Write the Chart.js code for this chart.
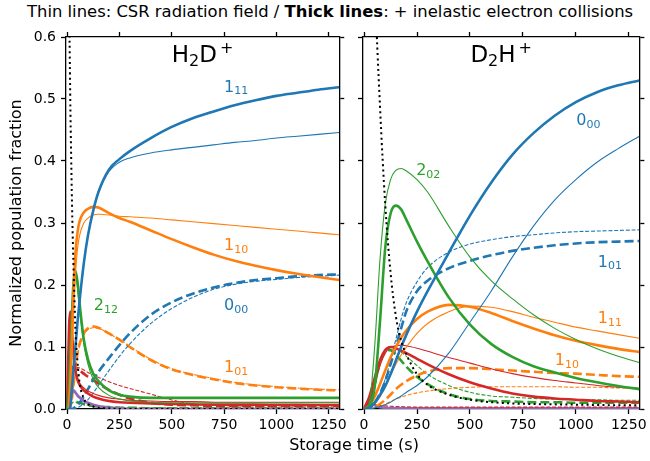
<!DOCTYPE html>
<html>
<head>
<meta charset="utf-8">
<script src="https://cdn.jsdelivr.net/npm/chart.js@4.4.0/dist/chart.umd.min.js"></script>
<style>
    body { margin: 0; background: #ffffff; }
    #figure { position: relative; width: 650px; height: 461px; overflow: hidden; font-family: 'DejaVu Sans', sans-serif; color: #000; }
    #h2d-chart { position: absolute; left: 0; top: 0; }
    #d2h-chart { position: absolute; left: 350px; top: 0; }
    #suptitle { position: absolute; left: 27px; top: 2px; font-size: 16.4px; white-space: nowrap; }
    #xlabel { position: absolute; left: 0; width: 708px; top: 435px; font-size: 16px; text-align: center; white-space: nowrap; }
</style>
</head>
<body>
<div id="figure">
    <div id="suptitle">Thin lines: CSR radiation field / <b>Thick lines</b>: + inelastic electron collisions</div>
    <canvas id="h2d-chart" width="350" height="461"></canvas>
    <canvas id="d2h-chart" width="300" height="461"></canvas>
    <div id="xlabel">Storage time (s)</div>
</div>
<script>
// Population trends of H2D+ and D2H+ rotational levels during storage

const FONT = "'DejaVu Sans', sans-serif";
const BLUE = '#1f77b4', ORANGE = '#ff7f0e', GREEN = '#2ca02c', RED = '#d62728', PURPLE = '#9467bd', BLACK = '#000000';

const xTickValues = [0, 250, 500, 750, 1000, 1250];
const yTickValues = [0.0, 0.1, 0.2, 0.3, 0.4, 0.5, 0.6];
const X_MIN = -5, X_MAX = 1300;

// ---- H2D+ ----
const h2dTime = [0, 5, 10, 15, 20, 25, 30, 40, 50, 60, 80, 100, 125, 150, 200, 250, 300, 400, 500, 600, 700, 800, 900, 1000, 1100, 1200, 1300];
const h2dDecay = [1.15, 0.88, 0.67, 0.51, 0.40, 0.31, 0.24, 0.13, 0.075, 0.042, 0.017, 0.008, 0.004, 0.002, 0.001, 0, 0, 0, 0, 0, 0, 0, 0, 0, 0, 0, 0];
const h2d111Thick = [0, 0, 0, 0.003, 0.02, 0.04, 0.06, 0.10, 0.14, 0.175, 0.235, 0.28, 0.32, 0.35, 0.386, 0.403, 0.416, 0.437, 0.455, 0.469, 0.48, 0.49, 0.498, 0.505, 0.51, 0.515, 0.519];
const h2d111Thin = [0, 0, 0, 0.003, 0.02, 0.04, 0.06, 0.10, 0.14, 0.175, 0.235, 0.28, 0.32, 0.349, 0.383, 0.398, 0.405, 0.413, 0.418, 0.422, 0.426, 0.43, 0.433, 0.437, 0.44, 0.443, 0.446];
const h2d110Thick = [0, 0, 0.01, 0.04, 0.08, 0.13, 0.18, 0.25, 0.285, 0.303, 0.317, 0.323, 0.326, 0.325, 0.316, 0.308, 0.302, 0.288, 0.274, 0.261, 0.249, 0.239, 0.231, 0.224, 0.218, 0.213, 0.208];
const h2d110Thin = [0, 0, 0.005, 0.025, 0.06, 0.10, 0.145, 0.215, 0.258, 0.28, 0.3, 0.308, 0.313, 0.314, 0.313, 0.311, 0.31, 0.308, 0.305, 0.302, 0.299, 0.296, 0.293, 0.29, 0.287, 0.284, 0.281];
const h2d000Thick = [0, 0, 0, 0, 0, 0, 0.001, 0.003, 0.006, 0.01, 0.02, 0.032, 0.047, 0.06, 0.082, 0.103, 0.122, 0.152, 0.172, 0.186, 0.196, 0.203, 0.208, 0.211, 0.214, 0.216, 0.217];
const h2d000Thin = [0, 0, 0, 0, 0, 0, 0, 0.001, 0.002, 0.004, 0.008, 0.015, 0.026, 0.038, 0.062, 0.085, 0.105, 0.138, 0.162, 0.18, 0.193, 0.201, 0.206, 0.209, 0.212, 0.214, 0.216];
const h2d101Thick = [0, 0, 0, 0.003, 0.01, 0.022, 0.037, 0.065, 0.09, 0.105, 0.122, 0.13, 0.133, 0.131, 0.122, 0.112, 0.1, 0.079, 0.064, 0.055, 0.048, 0.042, 0.038, 0.035, 0.033, 0.031, 0.03];
const h2d101Thin = [0, 0, 0, 0.002, 0.008, 0.018, 0.032, 0.06, 0.085, 0.102, 0.12, 0.128, 0.131, 0.13, 0.122, 0.112, 0.101, 0.08, 0.065, 0.056, 0.049, 0.043, 0.039, 0.036, 0.034, 0.032, 0.031];
const h2d212Thick = [0, 0.01, 0.04, 0.08, 0.125, 0.165, 0.2, 0.223, 0.205, 0.17, 0.112, 0.08, 0.057, 0.045, 0.03, 0.023, 0.02, 0.018, 0.018, 0.018, 0.018, 0.018, 0.018, 0.018, 0.018, 0.018, 0.018];
const h2d212Thin = [0, 0.012, 0.045, 0.09, 0.135, 0.17, 0.198, 0.215, 0.195, 0.16, 0.105, 0.072, 0.048, 0.035, 0.022, 0.016, 0.013, 0.011, 0.01, 0.01, 0.01, 0.01, 0.01, 0.01, 0.01, 0.01, 0.01];
const h2dRedThick = [0, 0.07, 0.135, 0.157, 0.14, 0.115, 0.092, 0.062, 0.047, 0.039, 0.03, 0.025, 0.02, 0.017, 0.013, 0.011, 0.01, 0.009, 0.008, 0.0075, 0.007, 0.007, 0.007, 0.0068, 0.0066, 0.0065, 0.0065];
const h2dRedThin = [0, 0.065, 0.13, 0.152, 0.138, 0.115, 0.093, 0.065, 0.05, 0.042, 0.034, 0.029, 0.025, 0.022, 0.018, 0.016, 0.014, 0.013, 0.012, 0.012, 0.011, 0.011, 0.011, 0.011, 0.011, 0.011, 0.011];
const h2dRedDashThick = [0, 0.01, 0.03, 0.05, 0.062, 0.067, 0.068, 0.066, 0.064, 0.062, 0.057, 0.052, 0.047, 0.041, 0.031, 0.023, 0.017, 0.01, 0.007, 0.006, 0.005, 0.005, 0.005, 0.005, 0.005, 0.005, 0.005];
const h2dRedDashThin = [0, 0.01, 0.03, 0.05, 0.062, 0.067, 0.069, 0.068, 0.067, 0.066, 0.063, 0.059, 0.055, 0.051, 0.044, 0.038, 0.033, 0.024, 0.0145, 0.008, 0.006, 0.005, 0.005, 0.005, 0.005, 0.005, 0.005];
const h2dPurpleThick = [0, 0.02, 0.028, 0.031, 0.031, 0.031, 0.03, 0.027, 0.022, 0.019, 0.013, 0.01, 0.007, 0.005, 0.002, 0.001, 0, 0, 0, 0, 0, 0, 0, 0, 0, 0, 0];
const h2dPurpleThin = [0, 0.018, 0.027, 0.03, 0.03, 0.029, 0.028, 0.025, 0.02, 0.017, 0.012, 0.009, 0.006, 0.004, 0.002, 0.001, 0, 0, 0, 0, 0, 0, 0, 0, 0, 0, 0];
const h2dGreenDashThick = [0, 0.002, 0.005, 0.008, 0.01, 0.011, 0.012, 0.012, 0.011, 0.01, 0.008, 0.006, 0.005, 0.004, 0.003, 0.002, 0.002, 0.001, 0.001, 0.001, 0.001, 0.001, 0.001, 0.001, 0.001, 0.001, 0.001];
const h2dGreenDashThin = [0, 0.002, 0.004, 0.007, 0.009, 0.01, 0.011, 0.011, 0.01, 0.009, 0.007, 0.006, 0.005, 0.004, 0.003, 0.003, 0.002, 0.002, 0.002, 0.002, 0.002, 0.002, 0.002, 0.002, 0.002, 0.002, 0.002];

// ---- D2H+ ----
const d2hTime = [0, 25, 50, 75, 100, 125, 150, 175, 200, 250, 300, 400, 500, 600, 700, 800, 900, 1000, 1100, 1200, 1300];
const d2hDecay = [1.6, 1.05, 0.7, 0.49, 0.33, 0.22, 0.15, 0.11, 0.088, 0.056, 0.039, 0.023, 0.015, 0.011, 0.009, 0.008, 0.0075, 0.007, 0.0065, 0.006, 0.006];
const d2h000Thick = [0, 0.002, 0.01, 0.022, 0.037, 0.056, 0.078, 0.1, 0.12, 0.157, 0.19, 0.252, 0.312, 0.365, 0.41, 0.445, 0.473, 0.495, 0.511, 0.522, 0.53];
const d2h000Thin = [0, 0, 0.002, 0.004, 0.007, 0.011, 0.016, 0.021, 0.027, 0.038, 0.052, 0.09, 0.14, 0.19, 0.245, 0.295, 0.337, 0.37, 0.398, 0.42, 0.44];
const d2h101Thick = [0, 0.002, 0.01, 0.025, 0.045, 0.072, 0.1, 0.13, 0.158, 0.19, 0.207, 0.227, 0.239, 0.248, 0.255, 0.26, 0.264, 0.267, 0.269, 0.27, 0.271];
const d2h101Thin = [0, 0.002, 0.008, 0.025, 0.048, 0.078, 0.112, 0.145, 0.172, 0.205, 0.228, 0.253, 0.266, 0.273, 0.278, 0.281, 0.284, 0.286, 0.287, 0.288, 0.289];
const d2h202Thick = [0, 0.005, 0.035, 0.14, 0.26, 0.315, 0.328, 0.322, 0.305, 0.27, 0.238, 0.18, 0.136, 0.105, 0.084, 0.069, 0.059, 0.05, 0.043, 0.037, 0.032];
const d2h202Thin = [0, 0.01, 0.1, 0.24, 0.33, 0.37, 0.385, 0.388, 0.384, 0.37, 0.35, 0.295, 0.245, 0.207, 0.178, 0.152, 0.13, 0.112, 0.097, 0.085, 0.075];
const d2h111Thick = [0, 0.005, 0.02, 0.04, 0.062, 0.083, 0.1, 0.115, 0.127, 0.145, 0.157, 0.168, 0.165, 0.155, 0.142, 0.13, 0.119, 0.11, 0.103, 0.097, 0.092];
const d2h111Thin = [0, 0.002, 0.008, 0.02, 0.037, 0.055, 0.072, 0.087, 0.1, 0.122, 0.138, 0.157, 0.166, 0.164, 0.157, 0.148, 0.14, 0.132, 0.126, 0.12, 0.114];
const d2h110Thick = [0, 0.001, 0.003, 0.008, 0.015, 0.023, 0.032, 0.039, 0.045, 0.054, 0.06, 0.066, 0.066, 0.064, 0.062, 0.06, 0.058, 0.057, 0.055, 0.053, 0.052];
const d2h110Thin = [0, 0, 0.002, 0.004, 0.008, 0.012, 0.016, 0.019, 0.022, 0.026, 0.029, 0.033, 0.035, 0.036, 0.036, 0.036, 0.036, 0.035, 0.035, 0.034, 0.034];
const d2hRedThick = [0, 0.02, 0.05, 0.078, 0.095, 0.1, 0.098, 0.094, 0.09, 0.081, 0.072, 0.056, 0.043, 0.033, 0.025, 0.02, 0.017, 0.015, 0.013, 0.012, 0.011];
const d2hRedThin = [0, 0.012, 0.04, 0.07, 0.09, 0.1, 0.102, 0.103, 0.102, 0.098, 0.093, 0.083, 0.074, 0.065, 0.057, 0.051, 0.046, 0.042, 0.038, 0.035, 0.033];
const d2hGreenDashThick = [0, 0.01, 0.04, 0.075, 0.092, 0.095, 0.088, 0.078, 0.068, 0.052, 0.04, 0.024, 0.016, 0.013, 0.012, 0.011, 0.011, 0.01, 0.01, 0.01, 0.01];
const d2hGreenDashThin = [0, 0.008, 0.035, 0.07, 0.092, 0.1, 0.098, 0.092, 0.085, 0.07, 0.056, 0.038, 0.027, 0.021, 0.019, 0.017, 0.016, 0.015, 0.015, 0.014, 0.014];
const d2hRedDash = [0, 0.01, 0.008, 0.006, 0.005, 0.0045, 0.004, 0.004, 0.0035, 0.003, 0.003, 0.003, 0.003, 0.003, 0.003, 0.003, 0.003, 0.003, 0.003, 0.003, 0.003];
const d2hPurple = [0, 0.015, 0.006, 0.003, 0.002, 0.0015, 0.0012, 0.001, 0.001, 0.001, 0.001, 0.001, 0.001, 0.001, 0.001, 0.001, 0.001, 0.001, 0.001, 0.001, 0.001];

// Line styles (thin = CSR only, thick = with electron collisions)
const STYLES = {
    dot: { width: 2, dash: [2, 3.3] },
    thick: { width: 2.6, dash: [] },
    thin: { width: 1.1, dash: [] },
    thickDash: { width: 2.6, dash: [9, 4] },
    thinDash: { width: 1.1, dash: [4, 1.8] }
};

// [values, colour, style] - first entry is drawn on top
const h2dLines = [
    [h2dDecay, BLACK, 'dot'],
    [h2d111Thick, BLUE, 'thick'], [h2d111Thin, BLUE, 'thin'],
    [h2d110Thick, ORANGE, 'thick'], [h2d110Thin, ORANGE, 'thin'],
    [h2d212Thick, GREEN, 'thick'], [h2d212Thin, GREEN, 'thin'],
    [h2dRedThick, RED, 'thick'], [h2dRedThin, RED, 'thin'],
    [h2dPurpleThick, PURPLE, 'thick'], [h2dPurpleThin, PURPLE, 'thin'],
    [h2d000Thick, BLUE, 'thickDash'], [h2d000Thin, BLUE, 'thinDash'],
    [h2d101Thick, ORANGE, 'thickDash'], [h2d101Thin, ORANGE, 'thinDash'],
    [h2dRedDashThick, RED, 'thickDash'], [h2dRedDashThin, RED, 'thinDash'],
    [h2dGreenDashThick, GREEN, 'thickDash'], [h2dGreenDashThin, GREEN, 'thinDash']
];

const d2hLines = [
    [d2hDecay, BLACK, 'dot'],
    [d2h000Thick, BLUE, 'thick'], [d2h000Thin, BLUE, 'thin'],
    [d2h202Thick, GREEN, 'thick'], [d2h202Thin, GREEN, 'thin'],
    [d2h111Thick, ORANGE, 'thick'], [d2h111Thin, ORANGE, 'thin'],
    [d2hRedThick, RED, 'thick'], [d2hRedThin, RED, 'thin'],
    [d2h101Thick, BLUE, 'thickDash'], [d2h101Thin, BLUE, 'thinDash'],
    [d2h110Thick, ORANGE, 'thickDash'], [d2h110Thin, ORANGE, 'thinDash'],
    [d2hGreenDashThick, GREEN, 'thickDash'], [d2hGreenDashThin, GREEN, 'thinDash'],
    [d2hRedDash, RED, 'thinDash'],
    [d2hPurple, PURPLE, 'thick']
];

// Level labels: [level, J_KaKc subscript, colour, time, fraction]
const h2dLabels = [
    ['1', '11', BLUE, 750, 0.512],
    ['1', '10', ORANGE, 750, 0.2565],
    ['2', '12', GREEN, 128, 0.16],
    ['0', '00', BLUE, 750, 0.16],
    ['1', '01', ORANGE, 750, 0.06]
];
const d2hLabels = [
    ['0', '00', BLUE, 1002, 0.458],
    ['2', '02', GREEN, 246, 0.377],
    ['1', '01', BLUE, 1104, 0.2295],
    ['1', '11', ORANGE, 1104, 0.138],
    ['1', '10', ORANGE, 901, 0.071]
];

// Draw text made of normal / subscript / superscript pieces
function drawRich(ctx, x, y, parts, base, align) {
    const pieces = parts.map(([txt, role, gap]) => {
        const size = role === 'base' ? base : Math.round(base * 0.7);
        const dy = role === 'sub' ? base * 0.17 : role === 'sup' ? -base * 0.4 : 0;
        ctx.font = `${size}px ${FONT}`;
        return { txt, size, dy, gap: gap || 0, w: ctx.measureText(txt).width };
    });
    const total = pieces.reduce((s, p) => s + p.w + p.gap, 0);
    let cx = align === 'center' ? x - total / 2 : x;
    pieces.forEach(p => {
        cx += p.gap;
        ctx.font = `${p.size}px ${FONT}`;
        ctx.fillText(p.txt, cx, y + p.dy);
        cx += p.w;
    });
}

const levelLabels = {
    id: 'levelLabels',
    afterDatasetsDraw(chart, args, opts) {
        const { ctx, scales: { x, y } } = chart;
        ctx.save();
        ctx.textBaseline = 'alphabetic';
        ctx.textAlign = 'left';
        // panel title
        ctx.fillStyle = '#000';
        drawRich(ctx, (chart.chartArea.left + chart.chartArea.right) / 2, y.getPixelForValue(0.5597), opts.title, 23, 'center');
        opts.items.forEach(([lvl, sub, color, t, v]) => {
            ctx.fillStyle = color;
            drawRich(ctx, x.getPixelForValue(t), y.getPixelForValue(v), [[lvl, 'base'], [sub, 'sub']], 16, 'left');
        });
        ctx.restore();
    }
};

function buildDatasets(time, lines) {
    return lines.map(([values, color, style]) => ({
        data: time.map((t, i) => ({ x: t, y: values[i] })),
        borderColor: color,
        borderWidth: STYLES[style].width,
        borderDash: STYLES[style].dash,
        borderCapStyle: 'butt',
        pointRadius: 0,
        fill: false,
        cubicInterpolationMode: 'monotone',
        xAxisID: 'x',
        yAxisID: 'y'
    }));
}

const tickGrid = { drawOnChartArea: false, drawTicks: true, tickLength: 5, tickWidth: 1.3, tickColor: '#000' };
const spine = { display: true, color: '#000', width: 1.3 };

function panelOptions(sizes, title, items, showYLabels) {
    return {
        responsive: false,
        animation: false,
        events: [],
        layout: { padding: 0 },
        plugins: {
            legend: { display: false },
            tooltip: { enabled: false },
            levelLabels: { title, items }
        },
        scales: {
            x: {
                type: 'linear', position: 'bottom', min: X_MIN, max: X_MAX,
                afterBuildTicks: s => { s.ticks = xTickValues.map(v => ({ value: v })); },
                afterFit: s => { s.height = sizes.bottom; },
                grid: tickGrid, border: spine,
                ticks: { color: '#000', padding: 3, maxRotation: 0, autoSkip: false, font: { family: FONT, size: 14 }, callback: v => String(v) }
            },
            xTop: {
                type: 'linear', position: 'top', min: X_MIN, max: X_MAX,
                afterBuildTicks: s => { s.ticks = xTickValues.map(v => ({ value: v })); },
                afterFit: s => { s.height = sizes.top; },
                grid: tickGrid, border: spine,
                ticks: { display: false }
            },
            y: {
                type: 'linear', position: 'left', min: 0, max: 0.6,
                afterBuildTicks: s => { s.ticks = yTickValues.map(v => ({ value: v })); },
                afterFit: s => { s.width = sizes.left; },
                grid: tickGrid, border: spine,
                ticks: { display: showYLabels, color: '#000', padding: 5, font: { family: FONT, size: 14 }, callback: v => v.toFixed(1) },
                title: {
                    display: showYLabels, text: 'Normalized population fraction', color: '#000',
                    font: { family: FONT, size: 16 }, padding: { top: 7, bottom: 0 }
                }
            },
            yRight: {
                type: 'linear', position: 'right', min: 0, max: 0.6,
                afterBuildTicks: s => { s.ticks = yTickValues.map(v => ({ value: v })); },
                afterFit: s => { s.width = sizes.right; },
                grid: tickGrid, border: spine,
                ticks: { display: false }
            }
        }
    };
}

new Chart(document.getElementById('h2d-chart'), {
    type: 'line',
    data: { datasets: buildDatasets(h2dTime, h2dLines) },
    options: panelOptions({ left: 66, right: 6, top: 37, bottom: 52 },
        [['H', 'base'], ['2', 'sub'], ['D', 'base'], ['+', 'sup', 3]], h2dLabels, true),
    plugins: [levelLabels]
});

new Chart(document.getElementById('d2h-chart'), {
    type: 'line',
    data: { datasets: buildDatasets(d2hTime, d2hLines) },
    options: panelOptions({ left: 13, right: 8, top: 37, bottom: 52 },
        [['D', 'base'], ['2', 'sub'], ['H', 'base'], ['+', 'sup', 3]], d2hLabels, false),
    plugins: [levelLabels]
});
</script>
</body>
</html>
